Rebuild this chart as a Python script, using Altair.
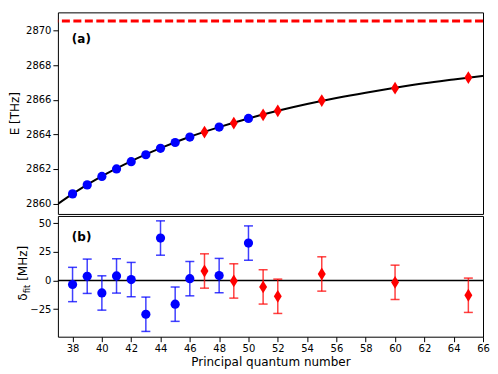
import altair as alt
import pandas as pd

# ---- data ----
n_blue = [38, 39, 40, 41, 42, 43, 44, 45, 46, 48, 50]
E_blue = [2860.56, 2861.08, 2861.57, 2862.00, 2862.42, 2862.82, 2863.19, 2863.53, 2863.84, 2864.42, 2864.92]
res_blue = [-3.4, 3.8, -10.8, 4.1, 0.9, -29.4, 37.2, -20.6, 1.7, 4.4, 32.8]
err_blue = [15, 15, 15, 15, 15, 15, 15, 15, 15, 15, 15]

n_red = [47, 49, 51, 52, 55, 60, 65]
E_red = [2864.13, 2864.65, 2865.13, 2865.36, 2865.95, 2866.67, 2867.28]
res_red = [8.4, -0.3, -5.5, -13.7, 5.8, -1.5, -12.8]
err_red = [15, 15, 15, 15, 15, 15, 15]

n_curve = [37, 38, 40, 42, 44, 46, 48, 50, 52, 54, 56, 58, 60, 62, 64, 66]
E_curve = [2859.98, 2860.56, 2861.58, 2862.45, 2863.20, 2863.86, 2864.42, 2864.92,
           2865.36, 2865.75, 2866.10, 2866.41, 2866.69, 2866.95, 2867.17, 2867.38]

E_limit = 2870.55

x_ticks = list(range(38, 67, 2))
yE_ticks = [2860, 2862, 2864, 2866, 2868, 2870]
yR_ticks = [-25, 0, 25, 50]

x_dom = [37, 66]
yE_dom = [2859.4, 2871.05]
yR_dom = [-49, 56.5]

W = 426
H_TOP = 202
H_BOT = 121
FONT = "DejaVu Sans"
DIAMOND = "M0,-1L0.62,0L0,1L-0.62,0Z"

blue_df = pd.DataFrame({"n": n_blue, "E": E_blue, "r": res_blue, "e": err_blue})
red_df = pd.DataFrame({"n": n_red, "E": E_red, "r": res_red, "e": err_red})
for d in (blue_df, red_df):
    d["lo"] = d["r"] - d["e"]
    d["hi"] = d["r"] + d["e"]
curve_df = pd.DataFrame({"n": n_curve, "E": E_curve})
one = pd.DataFrame({"k": [0]})

# ---------- top panel ----------
xs_top = alt.X("n:Q", scale=alt.Scale(domain=x_dom, nice=False, zero=False), axis=None)
yE = alt.Y("E:Q", scale=alt.Scale(domain=yE_dom, nice=False, zero=False),
           axis=alt.Axis(values=yE_ticks, title="E [THz]", format="d", titlePadding=4))

curve = alt.Chart(curve_df).mark_line(color="black", strokeWidth=2, interpolate="monotone", clip=True).encode(x=xs_top, y=yE)
limit = alt.Chart(one).mark_rule(color="red", strokeWidth=3, strokeDash=[8, 3.5]).encode(y=alt.Y(datum=E_limit))
pts_b = alt.Chart(blue_df).mark_point(filled=True, shape="circle", size=85, color="blue", opacity=1).encode(x=xs_top, y=yE)
pts_r = alt.Chart(red_df).mark_point(filled=True, shape=DIAMOND, size=165, color="red", opacity=1).encode(x=xs_top, y=yE)
lab_a = alt.Chart(one).mark_text(text="(a)", font=FONT, fontSize=12, fontWeight="bold", align="left",
                                 baseline="alphabetic", color="black").encode(x=alt.value(14), y=alt.value(31))

top = alt.layer(curve, limit, pts_b, pts_r, lab_a).properties(width=W, height=H_TOP)

# ---------- bottom panel ----------
x_axis = alt.Axis(values=x_ticks, title="Principal quantum number", titlePadding=3,
                  labelOverlap=False, labelFlush=False, tickCount=15)
x_scale = alt.Scale(domain=x_dom, nice=False, zero=False)
y_scale = alt.Scale(domain=yR_dom, nice=False, zero=False)
y_axis = alt.Axis(values=yR_ticks, title=None, labelOverlap=False)


def X(field="n"):
    return alt.X(f"{field}:Q", scale=x_scale, axis=x_axis)


def Y(field):
    return alt.Y(f"{field}:Q", scale=y_scale, axis=y_axis)


zero = alt.Chart(one).mark_rule(color="black", strokeWidth=1.5).encode(y=alt.Y(datum=0, scale=y_scale, axis=y_axis))


def err_layers(df, col, shape, size):
    bars = alt.Chart(df).mark_rule(color=col, strokeWidth=1.5, opacity=0.75).encode(x=X(), y=Y("lo"), y2="hi:Q")
    cap_lo = alt.Chart(df).mark_tick(color=col, orient="horizontal", size=9, thickness=1.5, opacity=0.75).encode(x=X(), y=Y("lo"))
    cap_hi = alt.Chart(df).mark_tick(color=col, orient="horizontal", size=9, thickness=1.5, opacity=0.75).encode(x=X(), y=Y("hi"))
    pts = alt.Chart(df).mark_point(filled=True, shape=shape, size=size, color=col, opacity=1).encode(x=X(), y=Y("r"))
    return [bars, cap_lo, cap_hi, pts]


lab_b = alt.Chart(one).mark_text(text="(b)", font=FONT, fontSize=12, fontWeight="bold", align="left",
                                 baseline="alphabetic", color="black").encode(x=alt.value(14), y=alt.value(25))
yl1 = alt.Chart(one).mark_text(text="δ", font=FONT, fontSize=12, angle=270, align="left",
                               baseline="alphabetic", color="black").encode(x=alt.value(-31), y=alt.value(85))
yl2 = alt.Chart(one).mark_text(text="fit", font=FONT, fontSize=8.5, angle=270, align="left",
                               baseline="alphabetic", color="black").encode(x=alt.value(-28), y=alt.value(77.5))
yl3 = alt.Chart(one).mark_text(text="[MHz]", font=FONT, fontSize=12, angle=270, align="left",
                               baseline="alphabetic", color="black").encode(x=alt.value(-31), y=alt.value(65))

bottom = alt.layer(zero, *err_layers(blue_df, "blue", "circle", 85),
                   *err_layers(red_df, "red", DIAMOND, 165), lab_b, yl1, yl2, yl3).properties(width=W, height=H_BOT)

chart = alt.vconcat(top, bottom, spacing=0).properties(
    padding={"left": 0, "top": 3, "right": 0, "bottom": 0}
).configure_view(stroke="black", strokeWidth=1).configure_axis(
    domain=False, grid=False, ticks=True, tickSize=5, tickColor="black", tickWidth=1,
    labelFont=FONT, labelFontSize=10, labelColor="black", labelPadding=2, labelOverlap=False,
    titleFont=FONT, titleFontSize=12, titleFontWeight="normal", titleColor="black"
)

chart.save("out.html", embed_options={"renderer": "svg", "actions": False})
